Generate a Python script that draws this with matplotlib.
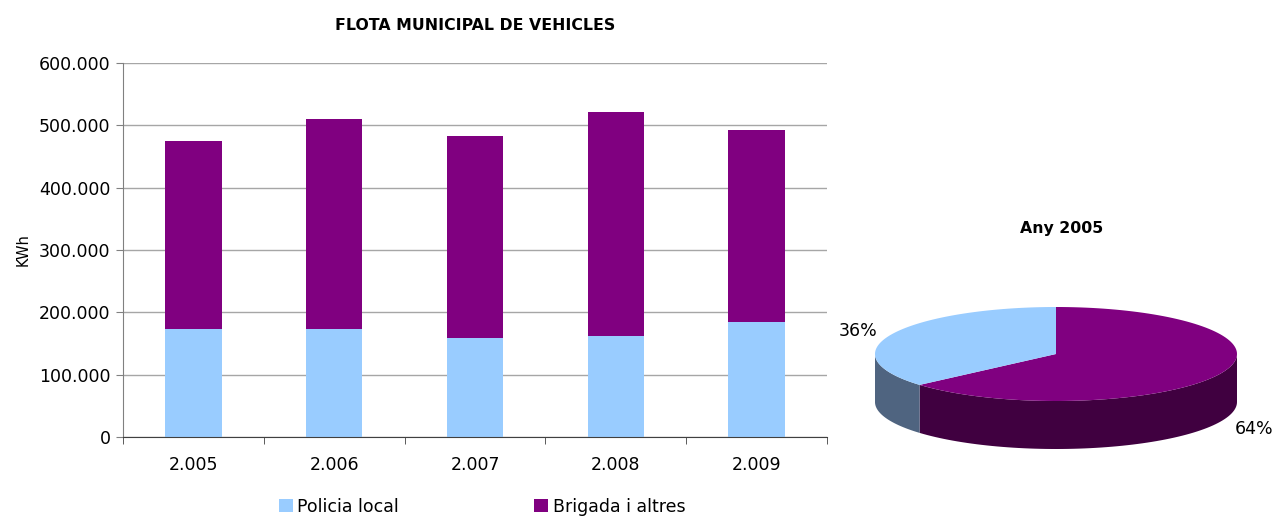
import matplotlib.pyplot as plt
import numpy as np
from matplotlib.patches import Polygon
from matplotlib.ticker import FuncFormatter

# data (KWh)
years = ['2.005', '2.006', '2.007', '2.008', '2.009']
policia = [173000, 173000, 159000, 162000, 184500]
brigada = [302000, 337000, 324000, 359000, 308000]
labels = ['Policia local', 'Brigada i altres']

blue = '#99CCFF'
purple = '#800080'
blue_side = '#4F6480'
purple_side = '#400040'

fig = plt.figure(figsize=(12.72, 5.23), dpi=100)
W, H = 1272, 523

# ---- stacked bars
ax = fig.add_axes([123 / W, 1 - 437 / H, 704 / W, 374 / H])
x = np.arange(len(years))
b1 = ax.bar(x, policia, 0.4, color=blue, label=labels[0], zorder=2)
b2 = ax.bar(x, brigada, 0.4, bottom=policia, color=purple, label=labels[1], zorder=2)
ax.set_xlim(-0.5, len(years) - 0.5)
ax.set_ylim(0, 600000)
ax.set_yticks(np.arange(0, 600001, 100000))
ax.yaxis.set_major_formatter(FuncFormatter(lambda v, p: f'{int(v):,}'.replace(',', '.')))
ax.set_xticks(x)
ax.set_xticklabels(years)
ax.set_xticks(np.arange(-0.5, len(years)), minor=True)
ax.tick_params(axis='x', which='major', length=0, pad=14, labelsize=12.5)
ax.tick_params(axis='x', which='minor', length=5, color='#404040')
ax.tick_params(axis='y', length=5, color='#808080', labelsize=12.5, pad=4)
ax.grid(axis='y', color='#A6A6A6', linewidth=1, zorder=0)
for s in ['top', 'right']:
    ax.spines[s].set_visible(False)
ax.spines['left'].set_color('#808080')
ax.spines['bottom'].set_color('#404040')
ax.set_ylabel('KWh', fontsize=10.5, labelpad=6)
ax.set_title('FLOTA MUNICIPAL DE VEHICLES', fontsize=11.3, fontweight='bold', pad=24)
ax.legend(handles=[b1, b2], loc='upper center', bbox_to_anchor=(0.51, -0.12), ncol=2,
          frameon=False, fontsize=12.5, handlelength=0.8, handleheight=0.8,
          handletextpad=0.25, columnspacing=7.8)

# ---- 3D-looking pie for 2005
pax = fig.add_axes([0, 0, 1, 1])
pax.set_xlim(0, W)
pax.set_ylim(H, 0)
pax.axis('off')
pie_vals = [brigada[0], policia[0]]
pie_cols = [purple, blue]
side_cols = [purple_side, blue_side]
cx, cy, a, b, depth = 1056, 354, 181, 47, 48

def pt(t, dy=0):
    return cx + a * np.cos(np.radians(t)), cy - b * np.sin(np.radians(t)) + dy

fr = np.array(pie_vals) / sum(pie_vals)
start = 90.0
wedges = []
for f in fr:
    end = start - 360 * f
    wedges.append((start, end))
    start = end

# side walls (front half only: angles in [-180, 0])
for (t1, t2), sc in zip(wedges, side_cols):
    lo, hi = min(t1, t2), max(t1, t2)
    for shift in (0, -360, 360):
        l, h = max(lo + shift, -180), min(hi + shift, 0)
        if h > l:
            ts = np.linspace(l, h, 80)
            top = [pt(t) for t in ts]
            bot = [pt(t, depth) for t in ts[::-1]]
            pax.add_patch(Polygon(top + bot, closed=True, fc=sc, ec='none'))

# top faces
for (t1, t2), c in zip(wedges, pie_cols):
    ts = np.linspace(t1, t2, 120)
    pax.add_patch(Polygon([(cx, cy)] + [pt(t) for t in ts], closed=True, fc=c, ec='none'))

# labels
for (t1, t2), f in zip(wedges, fr):
    m = (t1 + t2) / 2
    lx = cx + 1.2 * a * np.cos(np.radians(m))
    ly = cy - 1.2 * b * np.sin(np.radians(m))
    if np.sin(np.radians(m)) < 0:
        ly += depth + 4
    pax.text(lx, ly, f'{f * 100:.0f}%', fontsize=12.5, ha='center', va='center')

pax.text(1062, 228, 'Any 2005', fontsize=11.3, fontweight='bold', ha='center', va='center')

fig.savefig('out.png', dpi=100)
